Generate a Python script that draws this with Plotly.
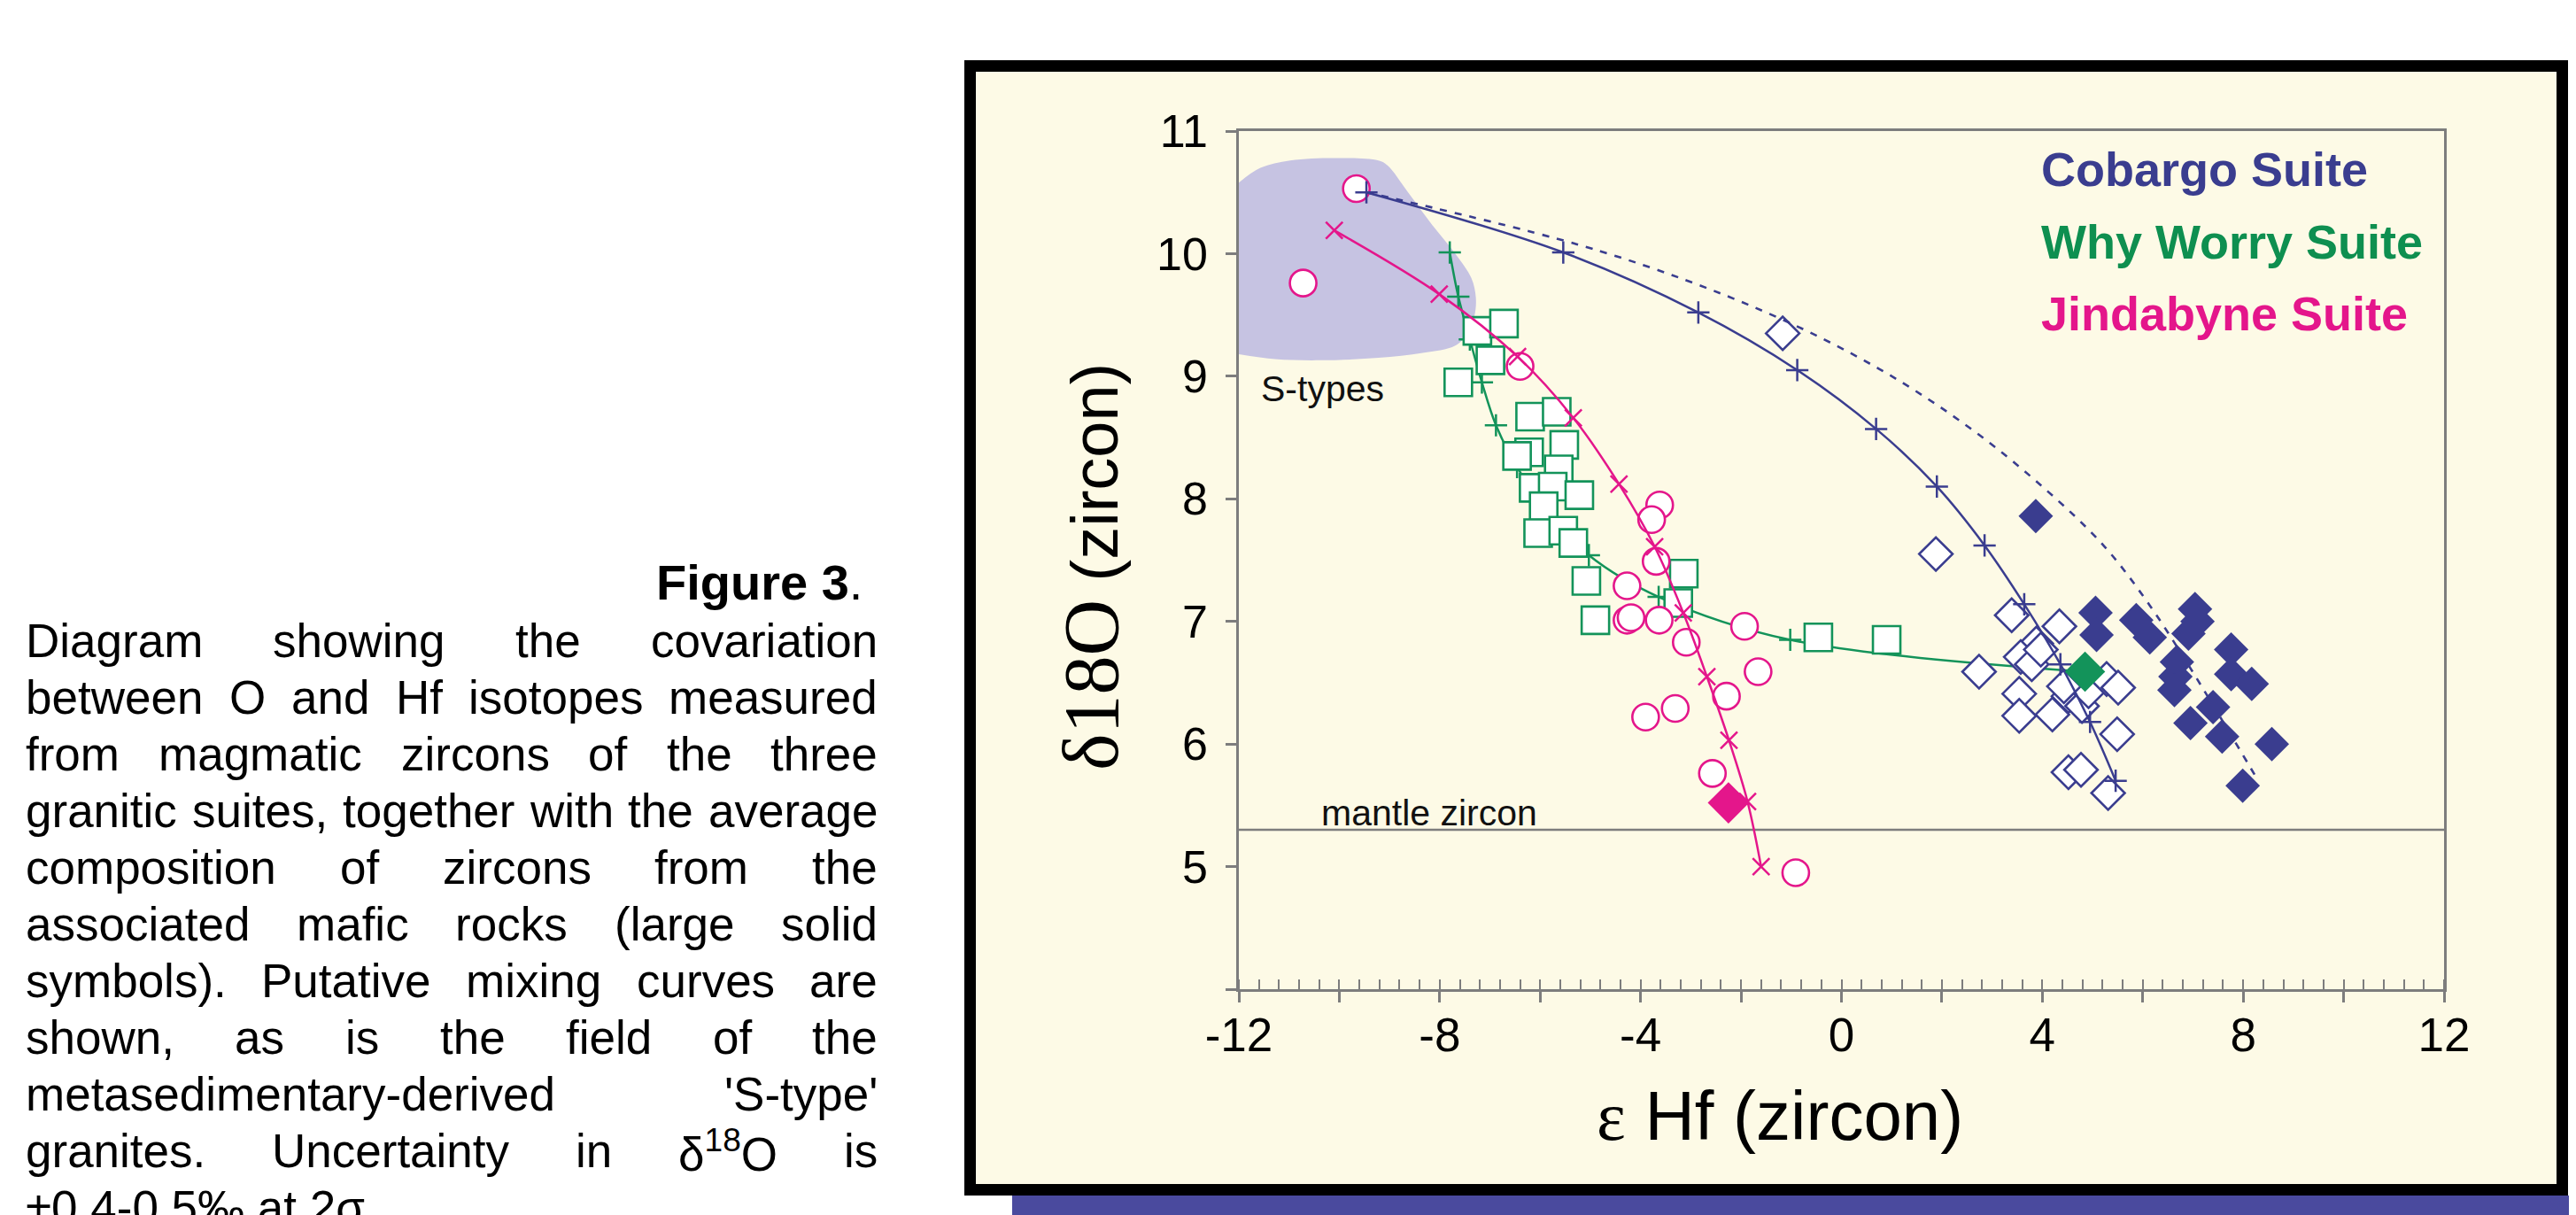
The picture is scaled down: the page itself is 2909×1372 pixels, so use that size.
import plotly.graph_objects as go

# ---------------- data ----------------
# S-type granite field (outline of the shaded region)
S_TYPE_X = [-12.0, -11.57, -10.98, -10.10, -9.22, -9.04, -8.63, -8.16, -7.69, -7.37, -7.28, -7.31,
            -7.45, -7.69, -8.34, -9.22, -10.39, -11.28, -12.0]
S_TYPE_Y = [10.58, 10.70, 10.76, 10.78, 10.76, 10.72, 10.50, 10.24, 10.00, 9.80, 9.64, 9.49,
            9.35, 9.25, 9.19, 9.15, 9.13, 9.14, 9.18]

MANTLE_ZIRCON = 5.3

# Cobargo Suite
COB_OPEN_X = [-1.17, 1.88, 3.39, 4.34, 3.88, 3.57, 3.79, 3.97, 2.74, 3.54, 3.54, 4.20, 4.52, 4.79,
              4.92, 5.28, 5.51, 5.49, 4.52, 4.77, 5.31, 4.43]
COB_OPEN_Y = [9.35, 7.55, 7.05, 6.96, 6.82, 6.71, 6.65, 6.77, 6.59, 6.41, 6.23, 6.24, 6.39, 6.31,
              6.43, 6.53, 6.46, 6.08, 5.77, 5.79, 5.60, 6.47]
COB_MAFIC_X = [3.87, 5.06, 5.08, 5.87, 6.14, 7.04, 7.09, 6.91, 6.68, 6.65, 6.63, 7.76, 7.76, 8.17,
               7.40, 6.95, 7.58, 8.57, 7.99]
COB_MAFIC_Y = [7.86, 7.07, 6.89, 7.01, 6.87, 7.10, 7.00, 6.90, 6.67, 6.55, 6.44, 6.77, 6.57, 6.49,
               6.30, 6.17, 6.06, 6.00, 5.66]
COB_MIX_X = [-9.46, -5.54, -2.85, -0.88, 0.69, 1.90, 2.85, 3.64, 4.36, 4.95, 5.46]
COB_MIX_Y = [10.50, 10.01, 9.52, 9.05, 8.57, 8.10, 7.62, 7.14, 6.65, 6.18, 5.70]
COB_MIX2_X = [-9.46, -4.80, -1.55, 0.75, 2.55, 4.00, 5.24, 6.14, 6.90, 7.60, 8.30]
COB_MIX2_Y = [10.50, 10.02, 9.53, 9.06, 8.58, 8.10, 7.61, 7.13, 6.65, 6.18, 5.70]

# Why Worry Suite
WW_X = [-7.25, -6.72, -6.99, -7.63, -6.20, -5.67, -6.22, -6.46, -5.52, -5.63, -6.13, -5.75, -5.22,
        -5.93, -6.04, -5.54, -5.34, -5.08, -4.90, -3.14, -3.25, -0.46, 0.90]
WW_Y = [9.37, 9.43, 9.13, 8.95, 8.67, 8.71, 8.38, 8.35, 8.44, 8.24, 8.09, 8.10, 8.03,
        7.94, 7.72, 7.74, 7.64, 7.33, 7.01, 7.39, 7.15, 6.87, 6.85]
WW_MAFIC_X = [4.85]
WW_MAFIC_Y = [6.59]
WW_MIX_X = [-7.80, -7.63, -7.40, -7.16, -6.88, -6.46, -5.87, -5.03, -3.64, -1.02, 4.85]
WW_MIX_Y = [10.01, 9.65, 9.30, 8.95, 8.60, 8.26, 7.90, 7.54, 7.20, 6.85, 6.59]

# Jindabyne Suite
JB_X = [-9.66, -10.72, -6.40, -3.62, -3.78, -3.69, -4.27, -4.27, -4.19, -3.63, -1.93, -3.09,
        -1.66, -2.29, -3.90, -3.31, -2.57, -0.91]
JB_Y = [10.53, 9.76, 9.08, 7.95, 7.83, 7.49, 7.29, 7.01, 7.03, 7.01, 6.96, 6.83,
        6.59, 6.39, 6.22, 6.29, 5.76, 4.95]
JB_MAFIC_X = [-2.25]
JB_MAFIC_Y = [5.52]
JB_MIX_X = [-10.10, -8.01, -6.45, -5.34, -4.43, -3.72, -3.15, -2.68, -2.24, -1.87, -1.60]
JB_MIX_Y = [10.19, 9.67, 9.16, 8.66, 8.12, 7.61, 7.07, 6.55, 6.03, 5.53, 5.00]

X_RANGE = [-12, 12]
Y_RANGE = [4, 11]
X_TICKS = list(range(-12, 13, 2))
X_TICK_TEXT = [str(v) if v % 4 == 0 else ' ' for v in X_TICKS]
Y_TICKS = list(range(4, 12))
Y_TICK_TEXT = [' ' if v == 4 else str(v) for v in Y_TICKS]

CAPTION_LINES = [
    "Diagram showing the covariation",
    "between O and Hf isotopes measured",
    "from magmatic zircons of the three",
    "granitic suites, together with the average",
    "composition of zircons from the",
    "associated mafic rocks (large solid",
    "symbols). Putative mixing curves are",
    "shown, as is the field of the",
    "metasedimentary-derived 'S-type'",
    "granites. Uncertainty in δ18O is",
]
CAPTION_LAST = "±0.4-0.5‰ at 2σ."

# ---------------- geometry (page pixels) ----------------
PAGE_W, PAGE_H = 2909, 1372
OFF = 8                       # default body margin of the html page
FIG_W, FIG_H = PAGE_W - OFF, PAGE_H - OFF
PL, PR, PT, PB = 1399, 2760, 148, 1117   # plot area in page pixels


def pxx(p):
    return (p - PL) / (PR - PL)


def pxy(p):
    return (PB - p) / (PB - PT)


SANS = "Liberation Sans, Arial, Helvetica, sans-serif"
SERIF = "Liberation Serif"
BEIGE = "#FDFAE6"
LAV = "#C6C3E2"
BLUE = "#3A3D8F"
GREEN = "#13935A"
GREEN_T = "#0E8F50"
PINK = "#E4168B"
GRAY = "#7D7D7D"
SHADOW = "#4A4A9E"

fig = go.Figure()

fig.add_trace(go.Scatter(x=S_TYPE_X, y=S_TYPE_Y, fill="toself", fillcolor=LAV, mode="lines",
                         line=dict(width=0, color=LAV, shape="spline"), hoverinfo="skip"))
fig.add_trace(go.Scatter(x=X_RANGE, y=[MANTLE_ZIRCON] * 2, mode="lines",
                         line=dict(color=GRAY, width=2.5), hoverinfo="skip"))

# Why Worry curve then squares
fig.add_trace(go.Scatter(x=WW_MIX_X, y=WW_MIX_Y, mode="lines+markers",
                         line=dict(color=GREEN, width=2.5, shape="spline"),
                         marker=dict(symbol="cross-thin", size=18, line=dict(color=GREEN, width=2.5))))
fig.add_trace(go.Scatter(x=WW_X, y=WW_Y, mode="markers",
                         marker=dict(symbol="square", size=31, color="white",
                                     line=dict(color=GREEN, width=2.6))))
# Jindabyne circles then curve
fig.add_trace(go.Scatter(x=JB_X, y=JB_Y, mode="markers",
                         marker=dict(symbol="circle", size=30, color="white",
                                     line=dict(color=PINK, width=2.6))))
fig.add_trace(go.Scatter(x=JB_MIX_X, y=JB_MIX_Y, mode="lines+markers",
                         line=dict(color=PINK, width=2.5, shape="spline"),
                         marker=dict(symbol="x-thin", size=19, line=dict(color=PINK, width=2.5))))
# Cobargo
fig.add_trace(go.Scatter(x=COB_OPEN_X, y=COB_OPEN_Y, mode="markers",
                         marker=dict(symbol="diamond", size=29, color="white",
                                     line=dict(color=BLUE, width=2.6))))
fig.add_trace(go.Scatter(x=COB_MIX2_X, y=COB_MIX2_Y, mode="lines",
                         line=dict(color=BLUE, width=2.6, dash="8px,9px", shape="spline")))
fig.add_trace(go.Scatter(x=COB_MIX_X, y=COB_MIX_Y, mode="lines+markers",
                         line=dict(color=BLUE, width=2.5, shape="spline"),
                         marker=dict(symbol="cross-thin", size=18, line=dict(color=BLUE, width=2.5))))
fig.add_trace(go.Scatter(x=COB_MAFIC_X, y=COB_MAFIC_Y, mode="markers",
                         marker=dict(symbol="diamond", size=30, color=BLUE, line=dict(width=0))))
fig.add_trace(go.Scatter(x=WW_MAFIC_X, y=WW_MAFIC_Y, mode="markers",
                         marker=dict(symbol="diamond", size=35, color=GREEN, line=dict(width=0))))
fig.add_trace(go.Scatter(x=JB_MAFIC_X, y=JB_MAFIC_Y, mode="markers",
                         marker=dict(symbol="diamond", size=36, color=PINK, line=dict(width=0))))

# ---------------- frame ----------------
shapes = [
    dict(type="rect", xref="paper", yref="paper", x0=pxx(1143), x1=pxx(2930), y0=pxy(1395),
         y1=pxy(1350), fillcolor=SHADOW, line=dict(width=0), layer="below"),
    dict(type="rect", xref="paper", yref="paper", x0=pxx(1095.5), x1=pxx(2893.5), y0=pxy(1343.5),
         y1=pxy(74.5), fillcolor=BEIGE, line=dict(color="black", width=13), layer="below"),
]

# ---------------- annotations ----------------
ann = []
for txt, col, yc in [("Cobargo Suite", BLUE, 191), ("Why Worry Suite", GREEN_T, 273),
                     ("Jindabyne Suite", PINK, 354)]:
    ann.append(dict(x=pxx(2304), y=pxy(yc), xref="paper", yref="paper", xanchor="left",
                    yanchor="middle", text="<b>%s</b>" % txt, showarrow=False,
                    font=dict(family=SANS, size=54, color=col), borderpad=0))
ann.append(dict(x=-11.57, y=8.90, xref="x", yref="y", xanchor="left", yanchor="middle",
                text="S-types", showarrow=False, font=dict(family=SANS, size=41, color="#111"),
                borderpad=0))
ann.append(dict(x=-10.38, y=5.44, xref="x", yref="y", xanchor="left", yanchor="middle",
                text="mantle zircon", showarrow=False, font=dict(family=SANS, size=41, color="#111"),
                borderpad=0))
# axis titles
ann.append(dict(x=pxx(2010), y=pxy(1260), xref="paper", yref="paper", xanchor="center",
                yanchor="middle", showarrow=False,
                text='<span style="font-family:%s">ε</span> Hf (zircon)' % SERIF,
                font=dict(family=SANS, size=78, color="black")))
ann.append(dict(x=pxx(1232), y=pxy(640), xref="paper", yref="paper", xanchor="center",
                yanchor="middle", showarrow=False, textangle=-90,
                text='<span style="font-family:%s;font-size:88px">δ18O</span> (zircon)' % SERIF,
                font=dict(family=SANS, size=74, color="black")))

# caption (justified using Arial metrics)
AW = {' ': 278, "'": 191, '(': 333, ')': 333, ',': 278, '-': 333, '.': 278, '±': 584, '‰': 1000,
      'δ': 556, 'σ': 600,
      'A': 667, 'B': 667, 'C': 722, 'D': 722, 'E': 667, 'F': 611, 'G': 778, 'H': 722, 'I': 278,
      'J': 500, 'K': 667, 'L': 556, 'M': 833, 'N': 722, 'O': 778, 'P': 667, 'Q': 778, 'R': 722,
      'S': 667, 'T': 611, 'U': 722, 'V': 667, 'W': 944, 'X': 667, 'Y': 667, 'Z': 611,
      'a': 556, 'b': 556, 'c': 500, 'd': 556, 'e': 556, 'f': 278, 'g': 556, 'h': 556, 'i': 222,
      'j': 222, 'k': 500, 'l': 222, 'm': 833, 'n': 556, 'o': 556, 'p': 556, 'q': 556, 'r': 333,
      's': 500, 't': 278, 'u': 556, 'v': 500, 'w': 722, 'x': 500, 'y': 500, 'z': 500}
CS = 53
CL, CR = 28, 990
LINE0, LSTEP = 723, 64


def word_w(w):
    if w == "δ18O":
        return (AW['δ'] + AW['O'] + 2 * 556 * 0.7) * CS / 1000
    return sum(AW.get(c, 556) for c in w) * CS / 1000


def word_t(w):
    return "δ<sup>18</sup>O" if w == "δ18O" else w


cfont = dict(family=SANS, size=CS, color="black")
for i, line in enumerate(CAPTION_LINES):
    words = line.split()
    ws = [word_w(w) for w in words]
    gap = (CR - CL - sum(ws)) / (len(words) - 1)
    x = CL
    yc = LINE0 + i * LSTEP
    for w, wd in zip(words, ws):
        ann.append(dict(x=pxx(x), y=pxy(yc), xref="paper", yref="paper", xanchor="left",
                        yanchor="middle", text=word_t(w), showarrow=False, font=cfont, borderpad=0))
        x += wd + gap
ann.append(dict(x=pxx(CL), y=pxy(LINE0 + len(CAPTION_LINES) * LSTEP), xref="paper", yref="paper",
                xanchor="left", yanchor="middle", text=CAPTION_LAST, showarrow=False, font=cfont,
                borderpad=0))
ann.append(dict(x=pxx(975), y=pxy(657), xref="paper", yref="paper", xanchor="right",
                yanchor="middle", text="<b>Figure 3</b>.", showarrow=False,
                font=dict(family=SANS, size=56, color="black"), borderpad=0))

fig.update_layout(
    width=FIG_W, height=FIG_H, autosize=False,
    margin=dict(l=PL - OFF, r=PAGE_W - PR, t=PT - OFF, b=PAGE_H - PB, pad=0),
    paper_bgcolor="white", plot_bgcolor="rgba(0,0,0,0)",
    showlegend=False, shapes=shapes, annotations=ann,
    xaxis=dict(range=X_RANGE, tickmode="array", tickvals=X_TICKS, ticktext=X_TICK_TEXT,
               ticks="outside", ticklen=12, tickwidth=2.5, tickcolor=GRAY,
               showline=True, linecolor=GRAY, linewidth=2.5, mirror=True,
               showgrid=False, zeroline=False, ticklabelstandoff=-8,
               tickfont=dict(family=SANS, size=53, color="black"),
               minor=dict(tick0=-12, dtick=0.4, ticks="inside", ticklen=11, tickwidth=2,
                          tickcolor=GRAY, showgrid=False)),
    yaxis=dict(range=Y_RANGE, tickmode="array", tickvals=Y_TICKS, ticktext=Y_TICK_TEXT,
               ticks="outside", ticklen=12, tickwidth=2.5, tickcolor=GRAY,
               showline=True, linecolor=GRAY, linewidth=2.5, mirror=True,
               showgrid=False, zeroline=False, ticklabelstandoff=10,
               tickfont=dict(family=SANS, size=52, color="black")),
)

fig.write_html("out.html")
